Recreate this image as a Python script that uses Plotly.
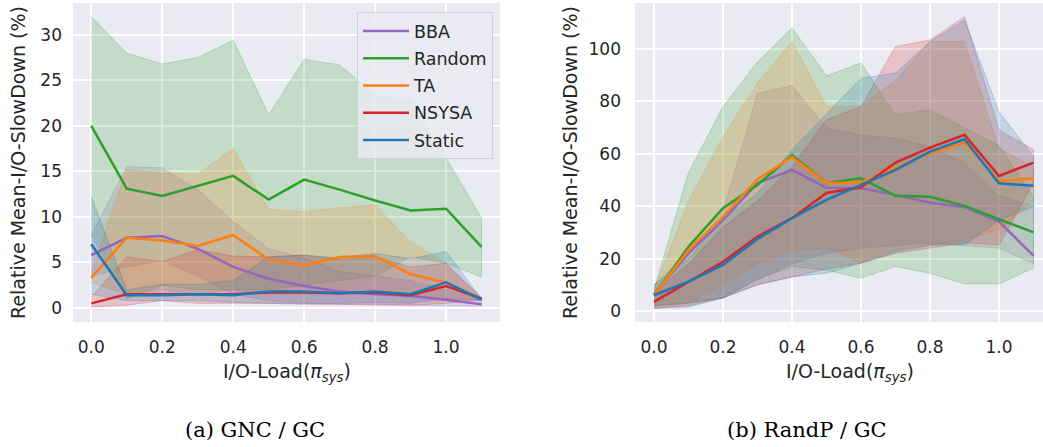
import plotly.graph_objects as go

# I/O load levels (pi_sys)
load = [0.0, 0.1, 0.2, 0.3, 0.4, 0.5, 0.6, 0.7, 0.8, 0.9, 1.0, 1.1]

series_names = ["BBA", "Random", "TA", "NSYSA", "Static"]
series_colors = {
    "BBA": (148, 103, 189),
    "Random": (44, 160, 44),
    "TA": (255, 127, 14),
    "NSYSA": (214, 39, 40),
    "Static": (31, 119, 180),
}

# (a) GNC / GC : mean and band limits (%)
gnc_mean = {
    "BBA":    [5.8, 7.7, 7.9, 6.5, 4.5, 3.2, 2.4, 1.8, 1.5, 1.3, 0.9, 0.4],
    "Random": [20.0, 13.1, 12.3, 13.4, 14.5, 11.9, 14.1, 13.0, 11.8, 10.7, 10.9, 6.7],
    "TA":     [3.3, 7.7, 7.4, 6.8, 8.0, 5.3, 4.7, 5.6, 5.7, 3.7, 2.8, 1.0],
    "NSYSA":  [0.5, 1.5, 1.5, 1.5, 1.5, 1.7, 1.7, 1.6, 1.7, 1.4, 2.4, 1.0],
    "Static": [7.0, 1.4, 1.4, 1.5, 1.4, 1.8, 1.8, 1.6, 1.8, 1.5, 2.8, 0.9],
}
gnc_upper = {
    "BBA":    [8.0, 15.5, 15.4, 13.0, 9.5, 6.5, 5.5, 4.0, 3.5, 3.0, 2.0, 0.8],
    "Random": [32.0, 28.0, 26.8, 27.5, 29.4, 21.2, 27.3, 26.7, 23.4, 22.7, 16.5, 9.9],
    "TA":     [4.0, 15.2, 14.8, 14.7, 17.5, 10.8, 10.6, 11.0, 11.3, 7.3, 4.9, 1.1],
    "NSYSA":  [1.2, 5.6, 5.1, 6.4, 5.7, 5.6, 5.8, 5.3, 5.6, 4.5, 4.9, 1.1],
    "Static": [12.2, 2.0, 2.6, 2.6, 3.0, 5.6, 5.8, 5.5, 6.0, 5.4, 6.2, 1.0],
}
gnc_lower = {
    "BBA":    [3.5, 4.5, 5.2, 3.5, 1.5, 0.8, 0.5, 0.4, 0.3, 0.3, 0.2, 0.2],
    "Random": [8.0, 1.0, 2.5, 2.0, 2.0, 2.0, 2.5, 3.0, 3.5, 5.6, 4.9, 3.4],
    "TA":     [2.8, 1.5, 2.0, 1.5, 2.0, 1.5, 1.5, 1.5, 1.8, 1.2, 1.0, 0.9],
    "NSYSA":  [0.1, 0.3, 0.8, 0.5, 0.5, 0.5, 0.4, 0.4, 0.4, 0.3, 0.5, 0.9],
    "Static": [1.5, 0.8, 0.8, 0.8, 0.6, 0.5, 0.5, 0.5, 0.6, 0.5, 1.0, 0.8],
}

# (b) RandP / GC : mean and band limits (%)
randp_mean = {
    "BBA":    [6.5, 22.0, 34.7, 48.8, 53.8, 47.0, 46.8, 44.3, 41.3, 39.6, 34.1, 21.1],
    "Random": [6.0, 24.5, 39.2, 48.1, 59.5, 48.8, 50.6, 44.0, 43.6, 40.1, 35.0, 30.0],
    "TA":     [6.0, 23.3, 36.0, 50.3, 58.7, 48.8, 49.0, 54.5, 60.2, 64.2, 49.6, 50.5],
    "NSYSA":  [3.5, 11.0, 18.8, 28.4, 35.4, 45.0, 47.2, 56.6, 62.3, 67.2, 51.5, 56.6],
    "Static": [6.0, 11.2, 17.6, 27.5, 35.4, 42.4, 48.1, 53.8, 60.8, 65.5, 48.7, 47.8],
}
randp_upper = {
    "BBA":    [10.0, 22.0, 38.0, 83.0, 86.0, 70.0, 67.0, 66.0, 62.7, 56.5, 44.0, 40.0],
    "Random": [8.0, 52.7, 78.0, 95.0, 108.0, 89.7, 94.6, 74.8, 76.8, 70.0, 63.0, 43.6],
    "TA":     [8.0, 42.0, 66.5, 87.0, 102.8, 78.0, 78.2, 88.0, 102.8, 102.8, 62.0, 55.0],
    "NSYSA":  [7.0, 18.0, 32.0, 42.0, 55.0, 73.0, 78.0, 100.9, 103.4, 112.3, 69.0, 61.5],
    "Static": [10.0, 20.0, 35.0, 45.0, 61.5, 75.0, 88.8, 90.7, 102.8, 111.0, 76.0, 58.8],
}
randp_lower = {
    "BBA":    [2.0, 3.0, 5.0, 12.0, 18.0, 22.0, 24.0, 25.0, 26.0, 25.0, 24.0, 18.0],
    "Random": [2.0, 3.0, 5.0, 12.0, 17.0, 15.6, 12.5, 17.0, 14.4, 10.3, 10.3, 16.4],
    "TA":     [1.0, 3.0, 10.0, 18.0, 23.0, 24.0, 18.3, 23.3, 25.2, 27.0, 31.0, 42.0],
    "NSYSA":  [1.0, 2.0, 5.0, 10.0, 13.0, 16.0, 18.3, 22.0, 24.0, 26.0, 25.2, 48.8],
    "Static": [1.0, 1.5, 5.0, 10.0, 13.0, 14.4, 18.3, 22.5, 25.2, 25.2, 34.7, 39.8],
}

x_ticks = [0.0, 0.2, 0.4, 0.6, 0.8, 1.0]
x_tick_text = ["0.0", "0.2", "0.4", "0.6", "0.8", "1.0"]
gnc_y_ticks = [0, 5, 10, 15, 20, 25, 30]
randp_y_ticks = [0, 20, 40, 60, 80, 100]

y_title = "Relative Mean-I/O-SlowDown (%)"
x_title = "I/O-Load(<i>π</i><sub><i>sys</i></sub>)"
captions = ["(a) GNC / GC", "(b) RandP / GC"]

FONT = "DejaVu Sans"
TEXT_COLOR = "#262626"
BG = "#EAEAF2"

fig = go.Figure()


def rgba(c, a):
    return f"rgba({c[0]},{c[1]},{c[2]},{a})"


def add_panel(mean, upper, lower, xa, ya, show_legend):
    # shaded bands first, then the mean lines on top
    for name in series_names:
        c = series_colors[name]
        fig.add_trace(go.Scatter(
            x=load + load[::-1],
            y=upper[name] + lower[name][::-1],
            fill="toself",
            fillcolor=rgba(c, 0.2),
            line=dict(color=rgba(c, 0.25), width=1),
            mode="lines",
            hoverinfo="skip",
            showlegend=False,
            xaxis=xa, yaxis=ya,
        ))
    for name in series_names:
        c = series_colors[name]
        fig.add_trace(go.Scatter(
            x=load, y=mean[name], mode="lines", name=name,
            legendgroup=name,
            line=dict(color=rgba(c, 1), width=2.5),
            showlegend=show_legend,
            xaxis=xa, yaxis=ya,
        ))


add_panel(gnc_mean, gnc_upper, gnc_lower, "x", "y", True)
add_panel(randp_mean, randp_upper, randp_lower, "x2", "y2", False)

W, H = 1043, 447
y_dom = [1 - 322 / H, 1 - 3 / H]

axis_common = dict(
    showgrid=True, gridcolor="white", gridwidth=1.6,
    zeroline=False, showline=False, ticks="",
    tickfont=dict(family=FONT, size=17, color=TEXT_COLOR),
)

fig.update_layout(
    width=W, height=H,
    margin=dict(l=0, r=0, t=0, b=0),
    paper_bgcolor="white",
    plot_bgcolor=BG,
    xaxis=dict(domain=[73 / W, 500 / W], range=[-0.0515, 1.152],
               tickvals=x_ticks, ticktext=x_tick_text, anchor="y",
               ticklabelstandoff=13, **axis_common),
    yaxis=dict(domain=y_dom, range=[-1.55, 33.5], tickvals=gnc_y_ticks,
               anchor="x", ticklabelstandoff=10, **axis_common),
    xaxis2=dict(domain=[635 / W, 1.0], range=[-0.055, 1.1275],
                tickvals=x_ticks, ticktext=x_tick_text, anchor="y2",
                ticklabelstandoff=13, **axis_common),
    yaxis2=dict(domain=y_dom, range=[-4.2, 117.5], tickvals=randp_y_ticks,
                anchor="x2", ticklabelstandoff=13, **axis_common),
    legend=dict(
        x=493 / W, y=1 - 12 / H, xanchor="right", yanchor="top",
        bgcolor="rgba(234,234,242,0.85)", bordercolor="#d0d0d8", borderwidth=1,
        font=dict(family=FONT, size=17.5, color=TEXT_COLOR),
        tracegroupgap=1.5, itemwidth=46,
    ),
)

annotations = []
# y-axis titles
for xc in (18, 570):
    annotations.append(dict(
        text=y_title, x=xc / W, y=1 - 163 / H, xref="paper", yref="paper",
        textangle=-90, showarrow=False, xanchor="center", yanchor="middle",
        font=dict(family=FONT, size=19, color=TEXT_COLOR),
    ))
# x-axis titles
for xc in (287, 850):
    annotations.append(dict(
        text=x_title, x=xc / W, y=1 - 372 / H, xref="paper", yref="paper",
        showarrow=False, xanchor="center", yanchor="middle",
        font=dict(family=FONT, size=19, color=TEXT_COLOR),
    ))
# panel captions
for xc, cap in zip((255, 807), captions):
    annotations.append(dict(
        text=cap, x=xc / W, y=1 - 430 / H, xref="paper", yref="paper",
        showarrow=False, xanchor="center", yanchor="middle",
        font=dict(family="DejaVu Serif", size=21, color="black"),
    ))
fig.update_layout(annotations=annotations)

fig.write_html("out.html")
